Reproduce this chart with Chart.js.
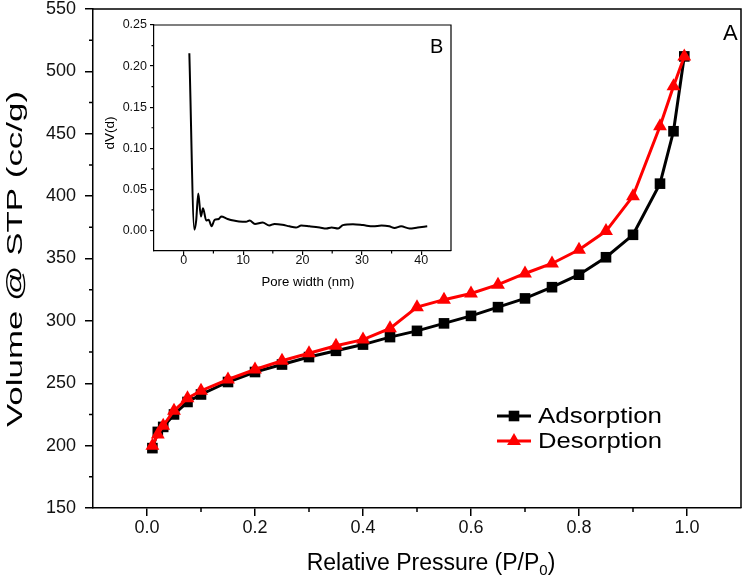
<!DOCTYPE html>
<html>
<head>
<meta charset="utf-8">
<script src="https://cdn.jsdelivr.net/npm/chart.js@4.4.0/dist/chart.umd.min.js"></script>
<style>
  html, body { margin: 0; padding: 0; background: #fff; }
  #wrap { position: relative; width: 749px; height: 582px; }
  #mainChart { position: absolute; left: 0; top: 0; }
  #insetChart { position: absolute; left: 100px; top: 10px; }
</style>
</head>
<body>
<div id="wrap">
  <canvas id="mainChart" width="749" height="582"></canvas>
  <canvas id="insetChart" width="360" height="290"></canvas>
</div>
<script>
// Panel A: N2 isotherm
const pressure = [0.01, 0.02, 0.03, 0.05, 0.075, 0.1, 0.15, 0.2, 0.25, 0.3, 0.35, 0.4, 0.45, 0.5, 0.55, 0.6, 0.65, 0.7, 0.75, 0.8, 0.85, 0.9, 0.95, 0.975, 0.995];
const adsorption = [198, 211, 215, 225, 235, 241, 251, 259, 265, 271, 276, 281, 287, 292, 298, 304, 311, 318, 327, 337, 351, 369, 410, 452, 512];
const desorption = [200, 209, 216, 228, 238, 244, 253, 261, 268, 274, 280, 285, 294, 311, 317, 322, 329, 338, 346, 357, 372, 400, 456, 488, 512];
const xTicksA = [0, 0.2, 0.4, 0.6, 0.8, 1.0];
const yTicksA = [150, 200, 250, 300, 350, 400, 450, 500, 550];

// Panel B: pore size distribution
const poreWidth = [0.95, 1.8, 2.1, 2.45, 2.9, 3.25, 3.8, 4.2, 4.7, 5.2, 5.9, 6.3, 7.4, 8.4, 9.3, 10.5, 11.1, 12.0, 13.3, 14.4, 15.3, 16.6, 17.8, 18.9, 19.8, 21.2, 22.9, 24.0, 24.9, 26.0, 26.8, 28.5, 30.2, 31.9, 33.3, 34.6, 35.5, 36.6, 38.0, 39.4, 41.0];
const dV = [0.2156, 0.001, 0.012, 0.045, 0.017, 0.027, 0.012, 0.013, 0.005, 0.013, 0.014, 0.017, 0.014, 0.012, 0.011, 0.0105, 0.012, 0.008, 0.0097, 0.006, 0.008, 0.007, 0.005, 0.0036, 0.006, 0.005, 0.0036, 0.0024, 0.0036, 0.0024, 0.0065, 0.0077, 0.0065, 0.005, 0.006, 0.005, 0.003, 0.005, 0.0024, 0.0036, 0.005];
const xTicksB = [0, 10, 20, 30, 40];
const yTicksB = [0, 0.05, 0.10, 0.15, 0.20, 0.25];

const FONT = "'Liberation Sans', Arial, sans-serif";
const RED = '#ff0000';

function toPoints(xs, ys) {
  return xs.map((x, i) => ({ x: x, y: ys[i] }));
}

// text squeezed/stretched along its run so it spans a given length
function fitText(ctx, text, cx, cy, size, len, angle) {
  ctx.save();
  ctx.font = size + 'px ' + FONT;
  const w = ctx.measureText(text).width;
  ctx.translate(cx, cy);
  ctx.rotate(angle || 0);
  ctx.scale(len / w, 1);
  ctx.textAlign = 'center';
  ctx.textBaseline = 'middle';
  ctx.fillText(text, 0, 0);
  ctx.restore();
}

// frame on top/right + minor ticks + extras
function framePlugin(opts) {
  return {
    id: 'frame',
    afterDraw(chart) {
      const ctx = chart.ctx;
      const a = chart.chartArea;
      const xs = chart.scales.x, ys = chart.scales.y;
      ctx.save();
      ctx.strokeStyle = '#000';
      ctx.lineWidth = opts.lw;
      ctx.beginPath();
      ctx.moveTo(a.left, a.top); ctx.lineTo(a.right, a.top); ctx.lineTo(a.right, a.bottom);
      ctx.stroke();
      ctx.beginPath();
      opts.xMinor.forEach(v => {
        const px = xs.getPixelForValue(v);
        ctx.moveTo(px, a.bottom); ctx.lineTo(px, a.bottom + opts.minorLen);
      });
      opts.yMinor.forEach(v => {
        const py = ys.getPixelForValue(v);
        ctx.moveTo(a.left, py); ctx.lineTo(a.left - opts.minorLen, py);
      });
      ctx.stroke();
      ctx.restore();
      if (opts.extra) opts.extra(chart);
    }
  };
}

function drawMainExtras(chart) {
  const ctx = chart.ctx;
  ctx.save();
  ctx.fillStyle = '#000';
  // y title
  fitText(ctx, 'Volume @ STP (cc/g)', 16, 259, 22, 336, -Math.PI / 2);
  // x title with subscript
  const main = 'Relative Pressure (P/P';
  ctx.font = '23px ' + FONT;
  const w1 = ctx.measureText(main).width;
  ctx.font = '15px ' + FONT;
  const w2 = ctx.measureText('0').width;
  ctx.font = '23px ' + FONT;
  const w3 = ctx.measureText(')').width;
  let x0 = 431 - (w1 + w2 + w3) / 2;
  const yb = 570;
  ctx.textAlign = 'left';
  ctx.textBaseline = 'alphabetic';
  ctx.fillText(main, x0, yb);
  ctx.font = '15px ' + FONT;
  ctx.fillText('0', x0 + w1, yb + 5);
  ctx.font = '23px ' + FONT;
  ctx.fillText(')', x0 + w1 + w2, yb);
  // panel letter
  ctx.font = '22px ' + FONT;
  ctx.fillText('A', 723, 40);
  // legend
  const items = chart.data.datasets.slice().sort((p, q) => p.legendIndex - q.legendIndex);
  items.forEach((ds, i) => {
    const y = 416 + i * 25;
    ctx.strokeStyle = ds.borderColor;
    ctx.fillStyle = ds.borderColor;
    ctx.lineWidth = 3;
    ctx.beginPath();
    ctx.moveTo(497, y); ctx.lineTo(531, y);
    ctx.stroke();
    Chart.helpers.drawPoint(ctx, {
      pointStyle: ds.pointStyle, radius: ds.pointRadius, borderWidth: 0, rotation: 0
    }, 514, y);
    ctx.fillStyle = '#000';
    fitText(ctx, ds.label, 538 + 62, y + 1, 22, 124);
  });
  ctx.restore();
}

function drawInsetExtras(chart) {
  const ctx = chart.ctx;
  ctx.save();
  ctx.fillStyle = '#000';
  fitText(ctx, 'dV(d)', 10, 123, 13, 33, -Math.PI / 2);
  fitText(ctx, 'Pore width (nm)', 208, 272, 13, 93);
  ctx.font = '20px ' + FONT;
  ctx.textAlign = 'left';
  ctx.textBaseline = 'alphabetic';
  ctx.fillText('B', 330, 43);
  ctx.restore();
}

const mainChart = new Chart(document.getElementById('mainChart'), {
  type: 'line',
  data: {
    datasets: [
      {
        label: 'Adsorption',
        legendIndex: 0,
        order: 2,
        data: toPoints(pressure, adsorption),
        borderColor: '#000',
        backgroundColor: '#000',
        borderWidth: 3,
        pointStyle: 'rect',
        pointRadius: 7.5,
        pointBorderWidth: 0,
        tension: 0
      },
      {
        label: 'Desorption',
        legendIndex: 1,
        order: 1,
        data: toPoints(pressure, desorption),
        borderColor: RED,
        backgroundColor: RED,
        borderWidth: 3,
        pointStyle: 'triangle',
        pointRadius: 8,
        pointBorderWidth: 0,
        tension: 0
      }
    ]
  },
  options: {
    responsive: false,
    animation: false,
    layout: { padding: { top: 9, right: 3, left: 0, bottom: 0 } },
    plugins: { legend: { display: false }, tooltip: { enabled: false } },
    scales: {
      x: {
        type: 'linear',
        min: -0.1, max: 1.1,
        afterBuildTicks: s => { s.ticks = xTicksA.map(v => ({ value: v })); },
        afterFit: s => { s.height = 74; s.paddingLeft = 0; s.paddingRight = 0; },
        grid: { drawOnChartArea: false, tickLength: 8, color: '#000', lineWidth: 1.5 },
        border: { display: true, color: '#000', width: 1.5 },
        ticks: {
          color: '#111', padding: 1, maxRotation: 0,
          font: { family: FONT, size: 18 },
          callback: v => v.toFixed(1)
        }
      },
      y: {
        min: 150, max: 550,
        afterBuildTicks: s => { s.ticks = yTicksA.map(v => ({ value: v })); },
        afterFit: s => { s.width = 93; s.paddingTop = 0; s.paddingBottom = 0; },
        grid: { drawOnChartArea: false, tickLength: 8, color: '#000', lineWidth: 1.5 },
        border: { display: true, color: '#000', width: 1.5 },
        ticks: {
          color: '#111', padding: 9,
          font: { family: FONT, size: 18 },
          callback: v => String(v)
        }
      }
    }
  },
  plugins: [framePlugin({
    lw: 1.5, minorLen: 4,
    xMinor: [0.1, 0.3, 0.5, 0.7, 0.9],
    yMinor: [175, 225, 275, 325, 375, 425, 475, 525],
    extra: drawMainExtras
  })]
});

const insetChart = new Chart(document.getElementById('insetChart'), {
  type: 'line',
  data: {
    datasets: [{
      label: 'dV(d)',
      data: toPoints(poreWidth, dV),
      borderColor: '#000',
      borderWidth: 2,
      pointRadius: 0,
      tension: 0.3,
      cubicInterpolationMode: 'monotone'
    }]
  },
  options: {
    responsive: false,
    animation: false,
    layout: { padding: { top: 15, right: 9, left: 0, bottom: 0 } },
    plugins: { legend: { display: false }, tooltip: { enabled: false } },
    scales: {
      x: {
        type: 'linear',
        min: -5, max: 45,
        afterBuildTicks: s => { s.ticks = xTicksB.map(v => ({ value: v })); },
        afterFit: s => { s.height = 49; s.paddingLeft = 0; s.paddingRight = 0; },
        grid: { drawOnChartArea: false, tickLength: 4, color: '#000', lineWidth: 1.2 },
        border: { display: true, color: '#000', width: 1.2 },
        ticks: {
          color: '#111', padding: -2, maxRotation: 0,
          font: { family: FONT, size: 12.5 },
          callback: v => String(v)
        }
      },
      y: {
        min: -0.025, max: 0.25,
        afterBuildTicks: s => { s.ticks = yTicksB.map(v => ({ value: v })); },
        afterFit: s => { s.width = 54; s.paddingTop = 0; s.paddingBottom = 0; },
        grid: { drawOnChartArea: false, tickLength: 4, color: '#000', lineWidth: 1.2 },
        border: { display: true, color: '#000', width: 1.2 },
        ticks: {
          color: '#111', padding: 3,
          font: { family: FONT, size: 12.5 },
          callback: v => v.toFixed(2)
        }
      }
    }
  },
  plugins: [framePlugin({
    lw: 1.2, minorLen: 2.5,
    xMinor: [5, 15, 25, 35],
    yMinor: [0.025, 0.075, 0.125, 0.175, 0.225],
    extra: drawInsetExtras
  })]
});
</script>
</body>
</html>
